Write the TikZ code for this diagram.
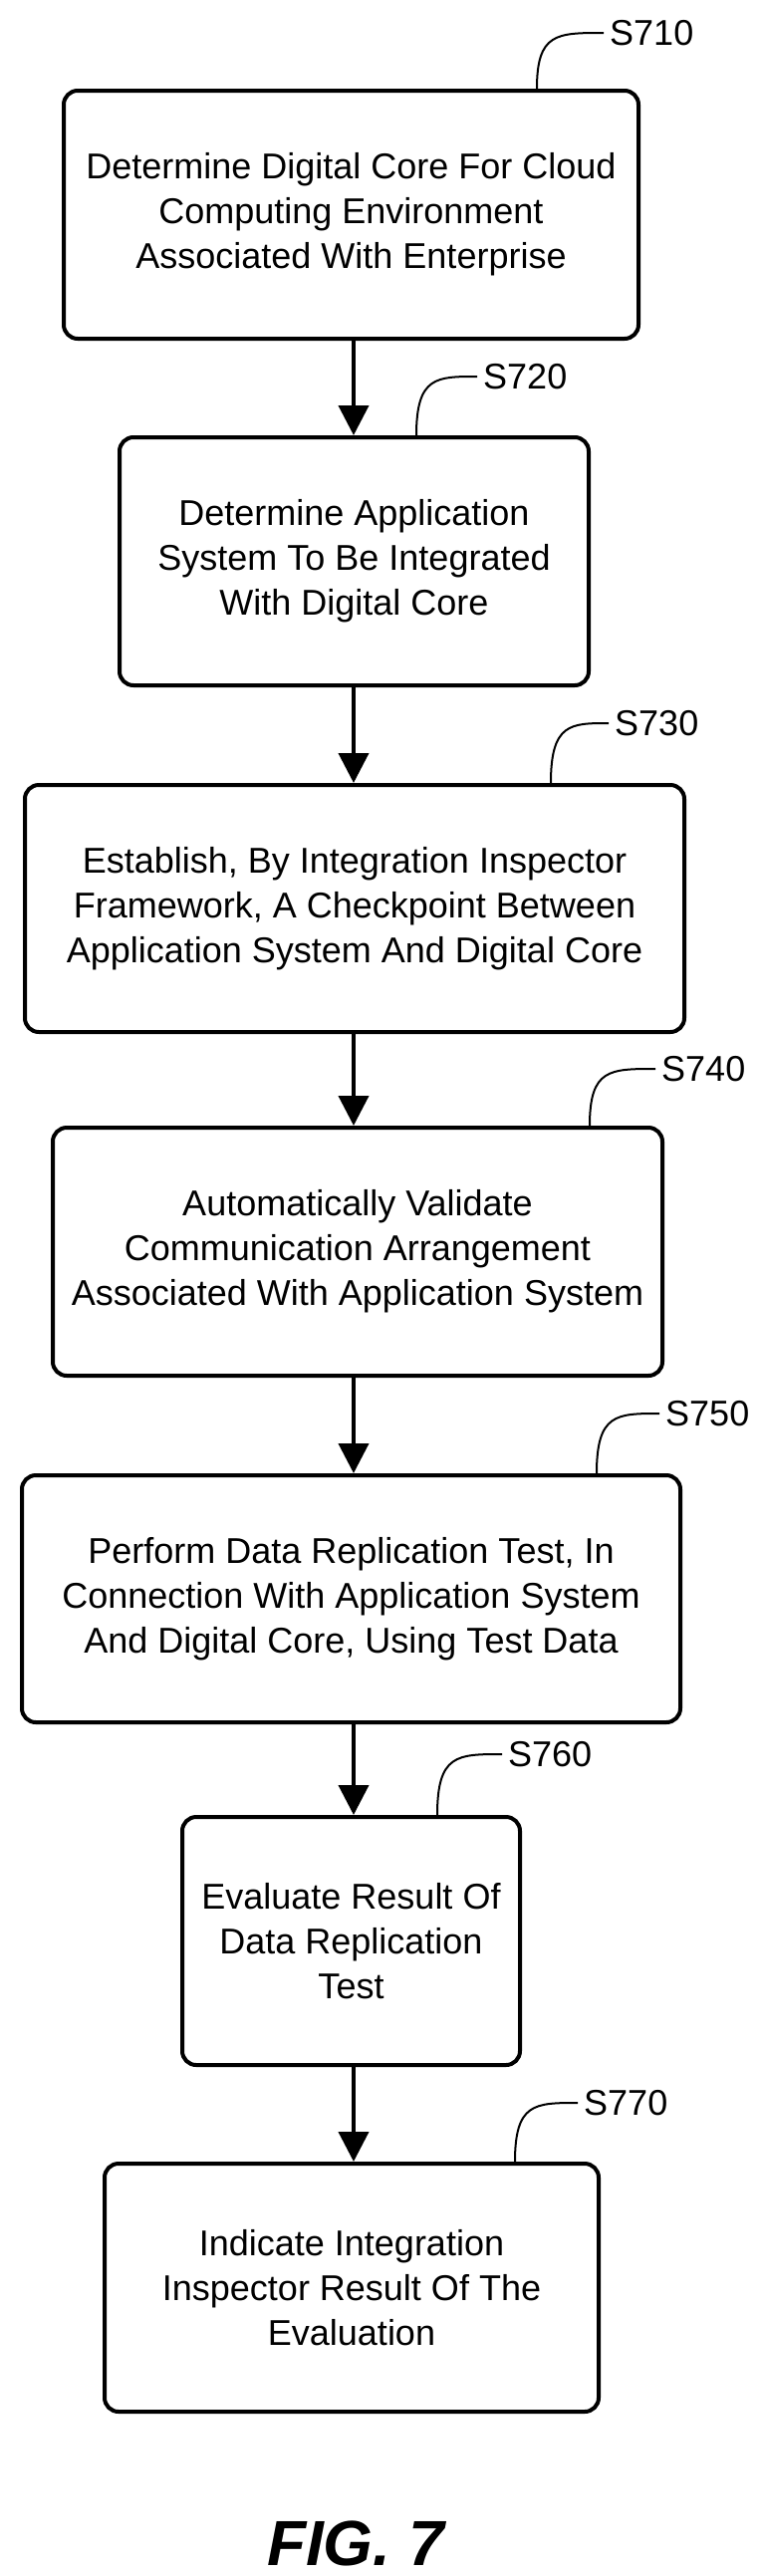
\documentclass[tikz,border=0pt]{standalone}
\usepackage{fontspec}
\setmainfont{Liberation Sans}
\usetikzlibrary{arrows.meta}
\begin{document}
\begin{tikzpicture}[x=1pt,y=-1pt,
  box/.style={draw,line width=4pt,rounded corners=14pt,align=center,inner sep=0pt,
    font=\fontsize{36}{45}\selectfont},
  arr/.style={line width=4pt,-{Triangle[length=30pt,width=30pt]}},
  lead/.style={line width=2pt},
  lab/.style={font=\fontsize{36}{40}\selectfont,anchor=west,inner sep=0pt}]
\useasboundingbox (0,0) rectangle (765,2586);
\newcommand\mybox[6]{%
  \node[box,minimum width=#3-#2,minimum height=#5-#4] (#1) at ({(#2+#3)/2},{(#4+#5)/2}) {#6};}
\mybox{b1}{64}{641}{91}{340}{Determine Digital Core For Cloud\\Computing Environment\\Associated With Enterprise}
\mybox{b2}{120}{591}{439}{688}{Determine Application\\System To Be Integrated\\With Digital Core}
\mybox{b3}{25}{687}{788}{1036}{Establish, By Integration Inspector\\Framework, A Checkpoint Between\\Application System And Digital Core}
\mybox{b4}{53}{665}{1132}{1381}{Automatically Validate\\Communication Arrangement\\Associated With Application System}
\mybox{b5}{22}{683}{1481}{1729}{Perform Data Replication Test, In\\Connection With Application System\\And Digital Core, Using Test Data}
\mybox{b6}{183}{522}{1824}{2073}{Evaluate Result Of\\Data Replication\\Test}
\mybox{b7}{105}{601}{2172}{2421}{Indicate Integration\\Inspector Result Of The\\Evaluation}
\foreach \a/\b in {b1/b2,b2/b3,b3/b4,b4/b5,b5/b6,b6/b7}
  \draw[arr] (\a.south -| 355,0) -- (\b.north -| 355,0);
\foreach \n/\s/\x/\lx/\ly/\bx in {l1/S710/539/612/33/b1,l2/S720/418/485/378/b2,l3/S730/553/617/726/b3,
  l4/S740/592/664/1073/b4,l5/S750/599/668/1419/b5,l6/S760/439/510/1761/b6,l7/S770/517/586/2111/b7}{
  \node[lab] (\n) at (\lx,\ly) {\s};
  \draw[lead] (\bx.north -| \x,0) .. controls (\x,\ly) and (\x+20,\ly) .. ([xshift=-6pt]\n.west);
}
\node[font=\fontsize{64}{70}\selectfont\bfseries\itshape] (fig) at (357,2553) {FIG. 7};
\end{tikzpicture}
\end{document}
